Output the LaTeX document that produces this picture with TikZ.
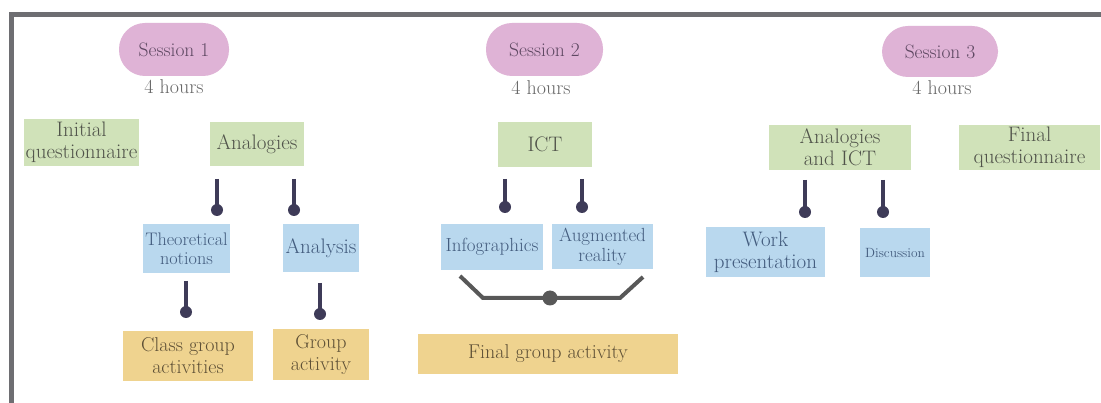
\documentclass[tikz,border=0pt]{standalone}
\usepackage{fontspec}
\begin{document}
\begin{tikzpicture}[x=1pt,y=-1pt,
  every node/.style={inner sep=0pt,outer sep=0pt,align=center},
  pill/.style={fill=pinkc,rounded corners=26pt,text=sesstext,font=\fontsize{19.5}{21}\selectfont},
  hrs/.style={text=hourtext,font=\fontsize{20}{22}\selectfont},
  gbox/.style={fill=greenc,text=greentext,font=\fontsize{21}{22}\selectfont},
  bbox/.style={fill=bluec,text=bluetext,font=\fontsize{19}{20}\selectfont},
  ybox/.style={fill=yellowc,text=yellowtext,font=\fontsize{20}{22}\selectfont},
  stem/.style={draw=stemc,line width=3.5pt},
  bracket/.style={draw=brackc,line width=4pt}]
\definecolor{pinkc}{HTML}{DFB3D6}
\definecolor{greenc}{HTML}{D0E2B9}
\definecolor{bluec}{HTML}{B9D8EE}
\definecolor{yellowc}{HTML}{EFD38F}
\definecolor{sesstext}{HTML}{5E4862}
\definecolor{hourtext}{HTML}{666666}
\definecolor{greentext}{HTML}{50534A}
\definecolor{bluetext}{HTML}{435C7E}
\definecolor{yellowtext}{HTML}{5E5036}
\definecolor{stemc}{HTML}{3E3B58}
\definecolor{brackc}{HTML}{585858}
\definecolor{framec}{HTML}{6E6E72}
\useasboundingbox (0,0) rectangle (1101,403);
\fill[white] (0,0) rectangle (1101,403);
% frame
\draw[framec,line width=5pt] (11.5,403) -- (11.5,14.5) -- (1101,14.5);
% sessions
\node[pill,minimum width=110pt,minimum height=53pt] (s1) at (174,49.5) {Session 1};
\node[hrs] (h1) at (174,87) {4 hours};
\node[pill,minimum width=117pt,minimum height=53pt] (s2) at (544.5,49.5) {Session 2};
\node[hrs] (h2) at (541,88) {4 hours};
\node[pill,minimum width=116pt,minimum height=51pt] (s3) at (940,51.5) {Session 3};
\node[hrs] (h3) at (942,88) {4 hours};
% session 1
\node[gbox,minimum width=115pt,minimum height=47pt] (iq) at (81.5,142.5) {Initial\\questionnaire};
\node[gbox,minimum width=94pt,minimum height=44pt] (an) at (257,144) {Analogies};
\node[bbox,minimum width=87pt,minimum height=49pt,font=\fontsize{18.2}{19}\selectfont] (tn) at (186.5,248.5) {Theoretical\\notions};
\node[bbox,minimum width=76pt,minimum height=48pt,font=\fontsize{21}{22}\selectfont] (ana) at (321,248) {Analysis};
\node[ybox,minimum width=130pt,minimum height=50pt] (cga) at (188,356) {Class group\\activities};
\node[ybox,minimum width=96pt,minimum height=51pt] (ga) at (321,354.5) {Group\\activity};
% session 2
\node[gbox,minimum width=94pt,minimum height=45pt] (ict) at (545,144.5) {ICT};
\node[bbox,minimum width=102pt,minimum height=46pt] (inf) at (492,247) {Infographics};
\node[bbox,minimum width=101pt,minimum height=45pt] (ar) at (602.5,246.5) {Augmented\\reality};
\node[ybox,minimum width=260pt,minimum height=40pt] (fga) at (548,354) {Final group activity};
% session 3
\node[gbox,minimum width=142pt,minimum height=45pt] (ait) at (840,147.5) {Analogies\\and ICT};
\node[gbox,minimum width=141pt,minimum height=45pt] (fq) at (1029.5,147.5) {Final\\questionnaire};
\node[bbox,minimum width=119pt,minimum height=50pt,font=\fontsize{21}{22}\selectfont] (wp) at (765.5,252) {Work\\presentation};
\node[bbox,minimum width=70pt,minimum height=49pt,font=\fontsize{13.4}{15}\selectfont] (dis) at (895,252.5) {Discussion};
% stems
\coordinate (a1) at (217,179); \coordinate (b1) at (217,210);
\coordinate (a2) at (294,179); \coordinate (b2) at (294,210);
\coordinate (a3) at (186,281); \coordinate (b3) at (186,312);
\coordinate (a4) at (320,283); \coordinate (b4) at (320,314);
\coordinate (a5) at (505,179); \coordinate (b5) at (505,207);
\coordinate (a6) at (582,179); \coordinate (b6) at (582,207);
\coordinate (a7) at (805,180); \coordinate (b7) at (805,212);
\coordinate (a8) at (883,180); \coordinate (b8) at (883,212);
\foreach \i in {1,...,8}{
  \draw[stem] (a\i) -- (b\i);
  \fill[stemc] (b\i) circle (6pt);
}
% bracket
\coordinate (k1) at (460,276); \coordinate (k2) at (483,298);
\coordinate (k3) at (620,298); \coordinate (k4) at (643,277);
\coordinate (kd) at (550,298);
\draw[bracket,line join=miter] (k1) -- (k2) -- (k3) -- (k4);
\fill[brackc] (kd) circle (7.5pt);
\end{tikzpicture}
\end{document}
